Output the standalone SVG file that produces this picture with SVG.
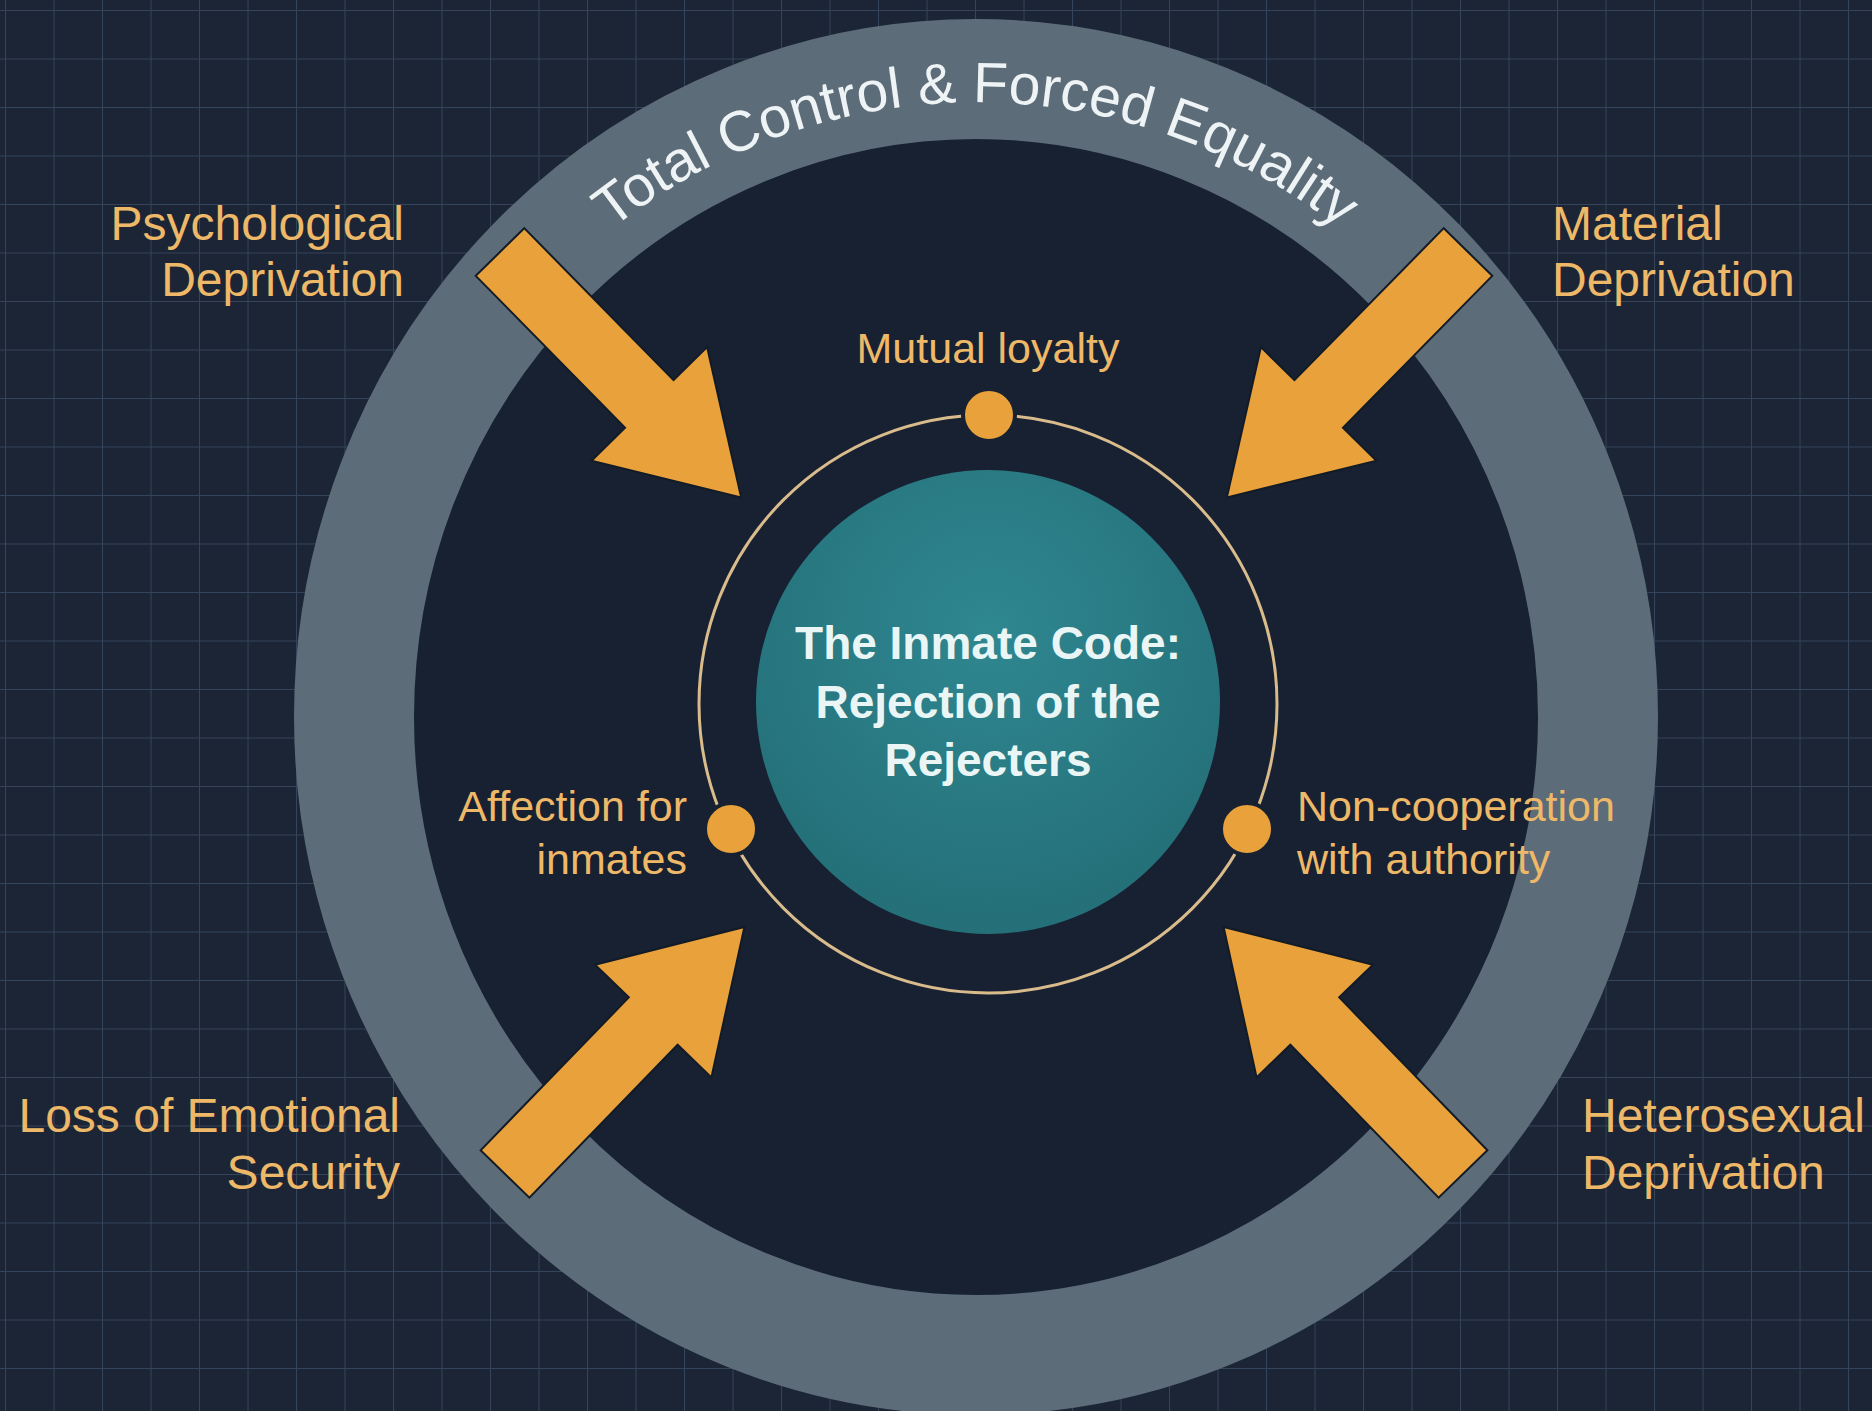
<svg xmlns="http://www.w3.org/2000/svg" width="1872" height="1411" viewBox="0 0 1872 1411">
<defs>
  <pattern id="grid" width="48.5" height="48.5" patternUnits="userSpaceOnUse" x="5" y="10">
    <path d="M0,0 H48.5 M0,0 V48.5" stroke="#34445a" stroke-width="2" fill="none"/>
  </pattern>
  <radialGradient id="tealGrad" cx="50%" cy="35%" r="65%">
    <stop offset="0" stop-color="#2f8790"/>
    <stop offset="1" stop-color="#246f78"/>
  </radialGradient>
  <path id="arrowShape" d="M0,-34 H213 V-81 L344,0 L213,81 V34 H0 Z"/>
  <path id="ringTextPath" d="M377,717 A599,615 0 0 1 1575,717" fill="none"/>
</defs>
<style>
  .lbl{font-family:"Liberation Sans",Arial,sans-serif;font-size:48px;fill:#eeb869}
  .sm{font-size:43px}
  .core{font-family:"Liberation Sans",Arial,sans-serif;font-size:46px;font-weight:bold;fill:#eaf6f5;text-anchor:middle}
  .ringtxt{font-family:"Liberation Sans",Arial,sans-serif;font-size:57px;fill:#eef3f5}
  .arrow{fill:#e9a23b;stroke:#131b27;stroke-width:2}
  .dot{fill:#e9a23b;stroke:#172131;stroke-width:4}
</style>

<g id="background">
  <rect width="1872" height="1411" fill="#1b2535"/>
  <rect width="1872" height="1411" fill="url(#grid)"/>
</g>

<g id="ring">
  <ellipse cx="976" cy="717" rx="622" ry="638" fill="#172131" stroke="#5d6c79" stroke-width="120"/>
  <text class="ringtxt"><textPath href="#ringTextPath" startOffset="50%" text-anchor="middle">Total Control &amp; Forced Equality</textPath></text>
</g>

<g id="orbit">
  <circle cx="988" cy="704" r="289" fill="none" stroke="#d9bb8c" stroke-width="3"/>
</g>

<g id="core">
  <circle cx="988" cy="702" r="232" fill="url(#tealGrad)"/>
  <text class="core" x="988" y="659">The Inmate Code:</text>
  <text class="core" x="988" y="718">Rejection of the</text>
  <text class="core" x="988" y="776">Rejecters</text>
</g>

<g id="connectors">
  <use href="#arrowShape" class="arrow" transform="translate(500,252) rotate(45.5)"/>
  <use href="#arrowShape" class="arrow" transform="translate(1468,252) rotate(134.5)"/>
  <use href="#arrowShape" class="arrow" transform="translate(505,1174) rotate(-45.9)"/>
  <use href="#arrowShape" class="arrow" transform="translate(1463,1174) rotate(-134.1)"/>
</g>

<g id="value-mutual-loyalty">
  <circle class="dot" cx="989" cy="415" r="26"/>
  <text class="lbl sm" x="988" y="363" text-anchor="middle">Mutual loyalty</text>
</g>

<g id="value-affection">
  <circle class="dot" cx="731" cy="829" r="26"/>
  <text class="lbl sm" x="687" y="821" text-anchor="end">Affection for</text>
  <text class="lbl sm" x="687" y="874" text-anchor="end">inmates</text>
</g>

<g id="value-noncooperation">
  <circle class="dot" cx="1247" cy="829" r="26"/>
  <text class="lbl sm" x="1297" y="821">Non-cooperation</text>
  <text class="lbl sm" x="1297" y="874">with authority</text>
</g>

<g id="source-psychological">
  <text class="lbl" x="404" y="240" text-anchor="end">Psychological</text>
  <text class="lbl" x="404" y="296" text-anchor="end">Deprivation</text>
</g>

<g id="source-material">
  <text class="lbl" x="1552" y="240">Material</text>
  <text class="lbl" x="1552" y="296">Deprivation</text>
</g>

<g id="source-emotional">
  <text class="lbl" x="400" y="1132" text-anchor="end">Loss of Emotional</text>
  <text class="lbl" x="400" y="1189" text-anchor="end">Security</text>
</g>

<g id="source-heterosexual">
  <text class="lbl" x="1582" y="1132">Heterosexual</text>
  <text class="lbl" x="1582" y="1189">Deprivation</text>
</g>
</svg>
